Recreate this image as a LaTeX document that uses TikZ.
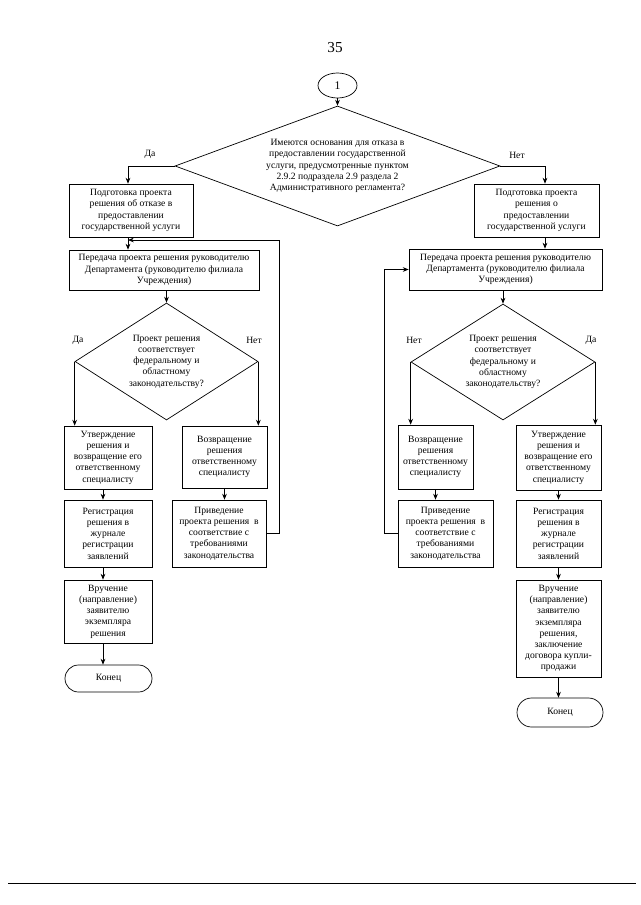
\documentclass[tikz,border=0pt]{standalone}
\usepackage{fontspec}
\setmainfont{Liberation Serif}
\usetikzlibrary{arrows.meta,shapes.geometric,shapes.misc}

\begin{document}
\begin{tikzpicture}[x=0.3mm,y=-0.3mm,
  every node/.style={font=\fontsize{8.2}{9.6}\selectfont},
  box/.style={draw,line width=0.6pt,align=center,inner sep=0pt},
  decision/.style={draw,line width=0.6pt,shape=diamond,align=center,inner sep=0pt},
  terminal/.style={draw,line width=0.6pt,rounded rectangle,inner sep=0pt},
  arr/.style={line width=0.6pt,-{Stealth[length=5pt,width=4pt]}}]
  \useasboundingbox (0,0) rectangle (640,905);

  \node[font=\fontsize{13}{15}\selectfont] (pagenum) at (335,48) {35};
  \node[draw,line width=0.6pt,ellipse,minimum width=11.7mm,minimum height=7.5mm,inner sep=0pt,
        font=\fontsize{10}{12}\selectfont] (start) at (337.5,85.5) {1};

  % first question
  \node[decision,minimum width=97.5mm,minimum height=36mm,aspect=2.7] (bigD) at (337.5,166) {Имеются основания для отказа в\\ предоставлении государственной\\ услуги, предусмотренные пунктом\\ 2.9.2 подраздела 2.9 раздела 2\\ Административного регламента?};
  \node (daTop) at (150,154) {Да};
  \node (netTop) at (517,155) {Нет};

  \coordinate (colL) at (128,0);
  \coordinate (colR) at (545,0);
  \coordinate (colLL) at (103,0);

  \node[box,minimum width=37.2mm,minimum height=15.9mm] (podL) at (131,210.5) {Подготовка проекта\\ решения об отказе в\\ предоставлении\\ государственной услуги};
  \node[box,minimum width=37.5mm,minimum height=15.9mm] (podR) at (536.5,210.5) {Подготовка проекта\\ решения о\\ предоставлении\\ государственной услуги};

  \node[box,minimum width=57mm,minimum height=12mm] (perL) at (164,270) {Передача проекта решения руководителю\\ Департамента (руководителю филиала\\ Учреждения)};
  \node[box,minimum width=57.9mm,minimum height=12.3mm] (perR) at (505.5,269.5) {Передача проекта решения руководителю\\ Департамента (руководителю филиала\\ Учреждения)};

  % second question, both branches
  \node[decision,minimum width=54.9mm,minimum height=35.1mm,aspect=1.56] (dL) at (166.5,361.5) {Проект решения\\ соответствует\\ федеральному и\\ областному\\ законодательству?};
  \node[decision,minimum width=55.2mm,minimum height=34.8mm,aspect=1.56] (dR) at (503,362) {Проект решения\\ соответствует\\ федеральному и\\ областному\\ законодательству?};
  \node (daL) at (78,340) {Да};
  \node (netL) at (254,340) {Нет};
  \node (netR) at (414,340) {Нет};
  \node (daR) at (591,340) {Да};

  % left column
  \node[box,minimum width=26.4mm,minimum height=18.9mm] (utvL) at (108,457.5) {Утверждение\\ решения и\\ возвращение его\\ ответственному\\ специалисту};
  \node[box,minimum width=26.4mm,minimum height=20.1mm] (regL) at (108,533.5) {Регистрация\\ решения в\\ журнале\\ регистрации\\ заявлений};
  \node[box,minimum width=26.4mm,minimum height=18.9mm] (vruchL) at (108,611.5) {Вручение\\ (направление)\\ заявителю\\ экземпляра\\ решения};
  \node[terminal,minimum width=26.1mm,minimum height=8.1mm] (konL) at (108.5,678.5) {Конец};
  \node[box,minimum width=25.5mm,minimum height=18.6mm] (vozvL) at (224.5,457) {Возвращение\\ решения\\ ответственному\\ специалисту};
  \node[box,minimum width=28.2mm,minimum height=20.1mm] (privL) at (219,533.5) {Приведение\\ проекта решения~~в\\ соответствие с\\ требованиями\\ законодательства};

  % right column
  \node[box,minimum width=22.5mm,minimum height=19.2mm] (vozvR) at (435.5,457) {Возвращение\\ решения\\ ответственному\\ специалисту};
  \node[box,minimum width=28.5mm,minimum height=20.1mm] (privR) at (445.5,533.5) {Приведение\\ проекта решения~~в\\ соответствие с\\ требованиями\\ законодательства};
  \node[box,minimum width=25.5mm,minimum height=19.5mm] (utvR) at (558.5,457.5) {Утверждение\\ решения и\\ возвращение его\\ ответственному\\ специалисту};
  \node[box,minimum width=25.5mm,minimum height=20.1mm] (regR) at (558.5,533.5) {Регистрация\\ решения в\\ журнале\\ регистрации\\ заявлений};
  \node[box,minimum width=25.5mm,minimum height=29.1mm] (vruchR) at (558.5,628.5) {Вручение\\ (направление)\\ заявителю\\ экземпляра\\ решения,\\ заключение\\ договора купли-\\ продажи};
  \node[terminal,minimum width=25.8mm,minimum height=8.7mm] (konR) at (560,712.5) {Конец};

  \coordinate (fbL) at (279,240);
  \coordinate (fbR) at (384,269.5);

  % connectors
  \draw[arr] (start) -- (bigD.north);
  \draw[arr] (bigD.west) -| (colL |- podL.north);
  \draw[arr] (bigD.east) -| (colR |- podR.north);
  \draw[arr] (colL |- podL.south) -- (colL |- perL.north);
  \draw[arr] (colR |- podR.south) -- (colR |- perR.north);
  \draw[arr] (dL.north |- perL.south) -- (dL.north);
  \draw[arr] (dR.north |- perR.south) -- (dR.north);

  \draw[arr] (dL.west) -- (dL.west |- utvL.north);
  \draw[arr] (dL.east) -- (dL.east |- vozvL.north);
  \draw[arr] (colLL |- utvL.south) -- (colLL |- regL.north);
  \draw[arr] (colLL |- regL.south) -- (colLL |- vruchL.north);
  \draw[arr] (colLL |- vruchL.south) -- (colLL |- konL.north);
  \draw[arr] (vozvL.south) -- (vozvL.south |- privL.north);
  \draw[arr] (privL.east) -| (fbL) -- (colL |- fbL);

  \draw[arr] (dR.west) -- (dR.west |- vozvR.north);
  \draw[arr] (dR.east) -- (dR.east |- utvR.north);
  \draw[arr] (utvR.south) -- (regR.north);
  \draw[arr] (regR.south) -- (vruchR.north);
  \draw[arr] (vruchR.south) -- (vruchR.south |- konR.north);
  \draw[arr] (vozvR.south) -- (vozvR.south |- privR.north);
  \draw[arr] (privR.west) -| (fbR) -- (perR.west |- fbR);

  \draw[line width=0.6pt] (8,883) -- (636,883);
\end{tikzpicture}
\end{document}
